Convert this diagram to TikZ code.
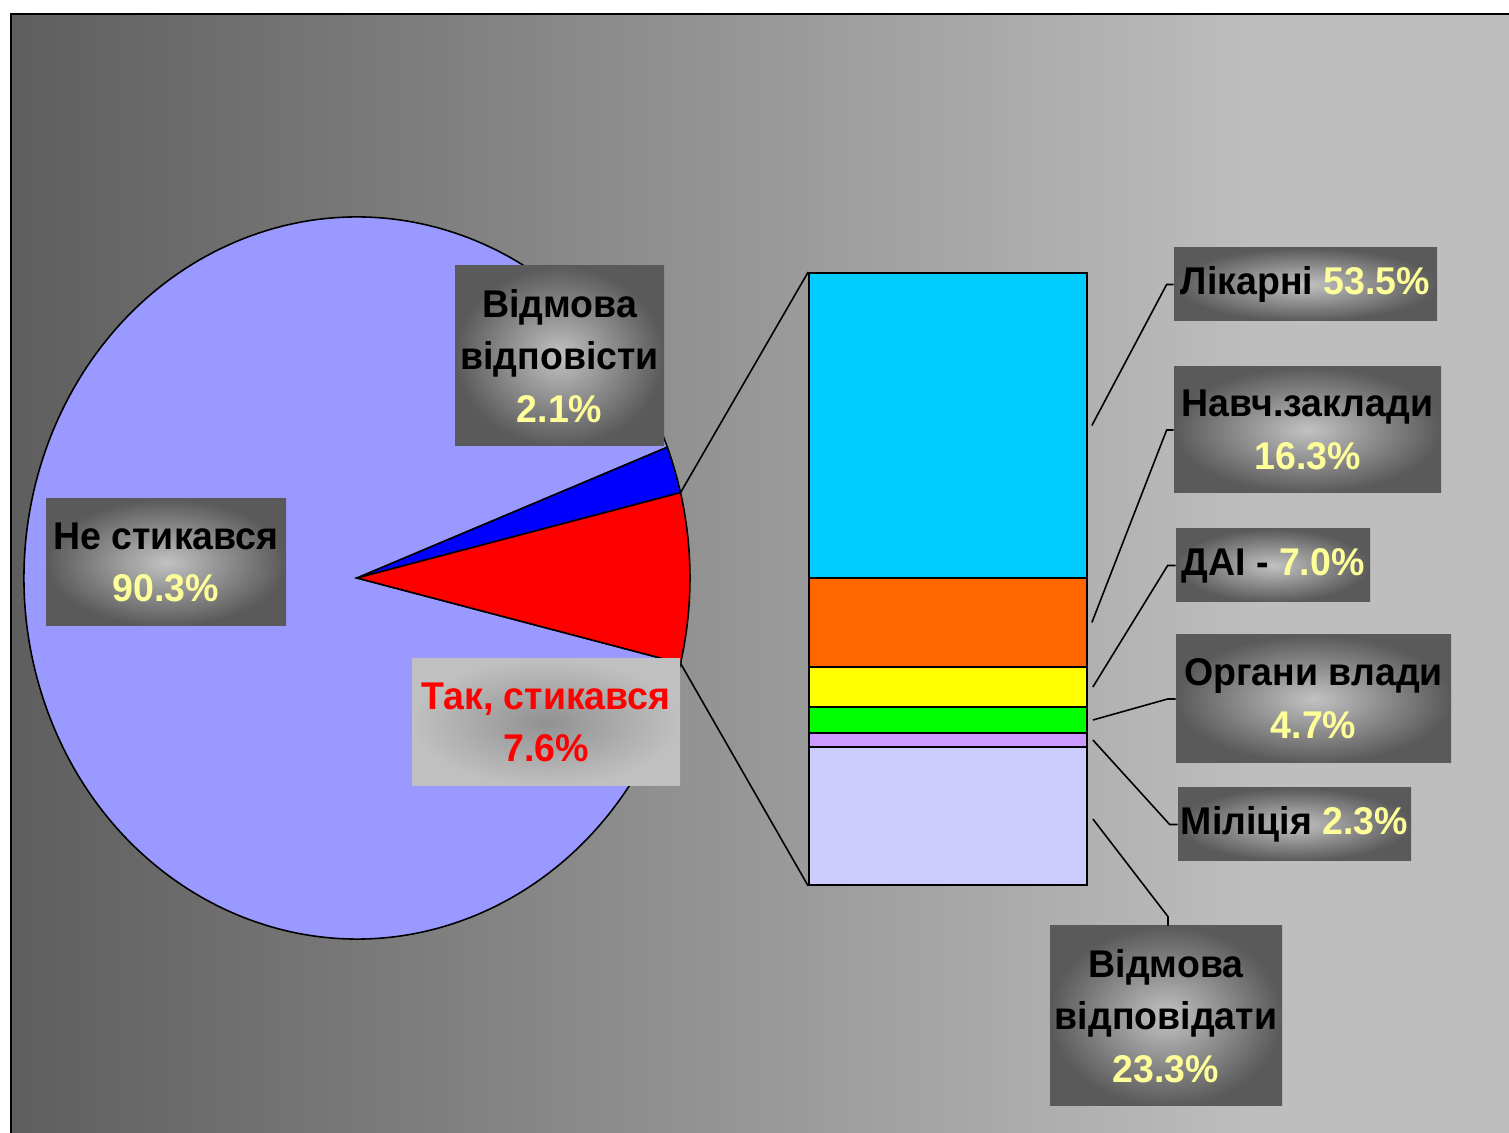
\documentclass[tikz,border=0pt]{standalone}
\usepackage{fontspec}
\setmainfont{Liberation Sans}[FakeStretch=0.97]
\definecolor{fonL}{HTML}{5E5E5E}
\definecolor{fonR}{HTML}{BEBEBE}
\definecolor{torta}{HTML}{9999FF}
\definecolor{vidmova}{HTML}{0000FF}
\definecolor{tak}{HTML}{FF0000}
\definecolor{likarni}{HTML}{00CCFF}
\definecolor{navch}{HTML}{FF6600}
\definecolor{dai}{HTML}{FFFF00}
\definecolor{organy}{HTML}{00FF00}
\definecolor{militsia}{HTML}{CC99FF}
\definecolor{vidpov}{HTML}{CCCCFF}
\definecolor{vidsotok}{HTML}{FFFF99}
\definecolor{ramkaIn}{HTML}{C2C2C2}
\definecolor{ramkaOut}{HTML}{5A5A5A}
\definecolor{takIn}{HTML}{919191}
\definecolor{takOut}{HTML}{C0C0C0}
\newcommand{\px}{0.02cm}
\newcommand{\vs}[1]{\textcolor{vidsotok}{#1}}
\begin{document}
\begin{tikzpicture}[x=\px, y=\px,
    mitka/.style={inner sep=0pt, align=center, font=\bfseries\fontsize{22}{30}\selectfont,
      inner color=ramkaIn, outer color=ramkaOut},
    segm/.style={draw=black, line width=1pt, minimum width=278*\px, inner sep=0pt},
    vynoska/.style={draw=black, line width=0.9pt}]
        \useasboundingbox (0,0) rectangle (1509,1133);
        % Фон з градієнтом
        \fill[white] (0,0) rectangle (1509,1133);
        \fill[fonR] (11,0) rectangle (1509,1119);
        \shade[left color=fonL, right color=fonR] (11,0) rectangle (1260,1119);
        \draw[line width=1.4pt] (11,0) -- (11,1119) -- (1509,1119);

        % Кругова діаграма
        \coordinate (pc) at (357,555);
        \filldraw[fill=torta, line width=0.9pt] (pc) -- ++(21.24:333 and 361)
            arc[start angle=21.24, end angle=346.32, x radius=333, y radius=361] -- cycle;
        \filldraw[fill=vidmova, line width=0.9pt] (pc) -- ++(13.68:333 and 361)
            arc[start angle=13.68, end angle=21.24, x radius=333, y radius=361] -- cycle;
        \filldraw[fill=tak, line width=0.9pt] (pc) -- ++(-13.68:333 and 361)
            arc[start angle=-13.68, end angle=13.68, x radius=333, y radius=361] -- cycle;
        \path (pc) ++(13.68:333 and 361) coordinate (jUp);
        \path (pc) ++(-13.68:333 and 361) coordinate (jDn);

        % Стовпчик (розподіл "Так, стикався")
        \node[segm, fill=likarni, minimum height=305*\px] (s1) at (948,707.5) {};
        \node[segm, fill=navch, minimum height=89*\px] (s2) at (948,510.5) {};
        \node[segm, fill=dai, minimum height=40*\px] (s3) at (948,446) {};
        \node[segm, fill=organy, minimum height=26*\px] (s4) at (948,413) {};
        \node[segm, fill=militsia, minimum height=14*\px] (s5) at (948,393) {};
        \node[segm, fill=vidpov, minimum height=138*\px] (s6) at (948,317) {};

        % Лінії від сектора до стовпчика
        \draw[vynoska] (jUp) -- (s1.north west);
        \draw[vynoska] (jDn) -- (s6.south west);

        % Підписи секторів
        \node[mitka, minimum width=209*\px, minimum height=180*\px] (pOtk) at (559.5,777)
            {Відмова\\відповісти\\\vs{2.1\%}};
        \node[mitka, minimum width=240*\px, minimum height=127*\px] (pNe) at (166,570.5)
            {Не стикався\\\vs{90.3\%}};
        \node[mitka, inner color=takIn, outer color=takOut, text=tak,
            minimum width=268*\px, minimum height=127*\px] (pTak) at (546,410.5)
            {Так, стикався\\7.6\%};

        % Підписи стовпчика
        \node[mitka, minimum width=263*\px, minimum height=73*\px] (lab1) at (1305.5,848.5)
            {Лікарні \vs{53.5\%}};
        \node[mitka, minimum width=267*\px, minimum height=126*\px] (lab2) at (1307.5,703)
            {Навч.заклади\\\vs{16.3\%}};
        \node[mitka, minimum width=194*\px, minimum height=73*\px] (lab3) at (1273,567.5)
            {ДАІ - \vs{7.0\%}};
        \node[mitka, minimum width=275*\px, minimum height=128*\px] (lab4) at (1313.5,434)
            {Органи влади\\\vs{4.7\%}};
        \node[mitka, minimum width=233*\px, minimum height=73*\px] (lab5) at (1294.5,308.5)
            {Міліція \vs{2.3\%}};
        \node[mitka, minimum width=232*\px, minimum height=180*\px] (lab6) at (1166,117)
            {Відмова\\відповідати\\\vs{23.3\%}};

        % Виноски
        \draw[vynoska] ([xshift=4*\px]s1.east) -- ([xshift=-7*\px]lab1.west) -- (lab1.west);
        \draw[vynoska] ([xshift=4*\px]s2.east) -- ([xshift=-7*\px]lab2.west) -- (lab2.west);
        \draw[vynoska] ([xshift=5*\px]s3.east) -- ([xshift=-8*\px]lab3.west) -- (lab3.west);
        \draw[vynoska] ([xshift=5*\px]s4.east) -- ([xshift=-8*\px]lab4.west) -- (lab4.west);
        \draw[vynoska] ([xshift=5*\px]s5.east) -- ([xshift=-8*\px]lab5.west) -- (lab5.west);
        \draw[vynoska] ([xshift=5*\px,yshift=-3*\px]s6.east) -- ([xshift=2*\px,yshift=9*\px]lab6.north)
            -- ([xshift=2*\px]lab6.north);
    \end{tikzpicture}
\end{document}
